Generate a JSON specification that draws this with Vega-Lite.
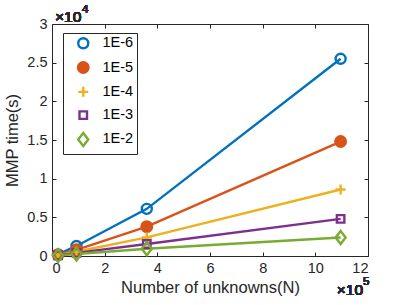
{
  "$schema": "https://vega.github.io/schema/vega-lite/v6.json",
  "autosize": "none",
  "padding": {"left": 52, "top": 24, "right": 39, "bottom": 49},
  "width": 316,
  "height": 232,
  "background": "white",
  "config": {
    "view": {"stroke": "#262626", "strokeWidth": 1},
    "font": "Liberation Sans",
    "axis": {"grid": false, "domain": false, "tickSize": -4, "tickColor": "#262626", "labelColor": "#262626", "labelFontSize": 14.5, "titleFontSize": 16.5, "titleFontWeight": "normal", "titleColor": "#262626", "labelFont": "Liberation Sans", "titleFont": "Liberation Sans"}
  },
  "data": {"values": [
    {"tol": "1E-6", "N": 0.23, "t": 0.02},
    {"tol": "1E-6", "N": 0.93, "t": 0.13},
    {"tol": "1E-6", "N": 3.6, "t": 0.61},
    {"tol": "1E-6", "N": 10.96, "t": 2.55},
    {"tol": "1E-5", "N": 0.23, "t": 0.015},
    {"tol": "1E-5", "N": 0.93, "t": 0.08},
    {"tol": "1E-5", "N": 3.6, "t": 0.38},
    {"tol": "1E-5", "N": 10.96, "t": 1.48},
    {"tol": "1E-4", "N": 0.23, "t": 0.01},
    {"tol": "1E-4", "N": 0.93, "t": 0.055},
    {"tol": "1E-4", "N": 3.6, "t": 0.24},
    {"tol": "1E-4", "N": 10.96, "t": 0.86},
    {"tol": "1E-3", "N": 0.23, "t": 0.008},
    {"tol": "1E-3", "N": 0.93, "t": 0.04},
    {"tol": "1E-3", "N": 3.6, "t": 0.155},
    {"tol": "1E-3", "N": 10.96, "t": 0.48},
    {"tol": "1E-2", "N": 0.23, "t": 0.005},
    {"tol": "1E-2", "N": 0.93, "t": 0.025},
    {"tol": "1E-2", "N": 3.6, "t": 0.094},
    {"tol": "1E-2", "N": 10.96, "t": 0.24}
  ]},
  "resolve": {"axis": {"x": "independent", "y": "independent"}},
  "layer": [
    {
      "mark": {"type": "line", "strokeWidth": 2.4},
      "encoding": {
        "x": {"field": "N", "type": "quantitative", "scale": {"domain": [0, 12], "nice": false}, "axis": {"orient": "bottom", "values": [0, 2, 4, 6, 8, 10, 12], "format": "~g", "title": "Number of unknowns(N)", "labelPadding": 9, "titlePadding": 5}},
        "y": {"field": "t", "type": "quantitative", "scale": {"domain": [0, 3], "nice": false}, "axis": {"orient": "left", "values": [0, 0.5, 1, 1.5, 2, 2.5, 3], "format": "~g", "title": "MMP time(s)", "labelPadding": 9, "titlePadding": 6}},
        "stroke": {"field": "tol", "type": "nominal", "scale": {"domain": ["1E-6", "1E-5", "1E-4", "1E-3", "1E-2"], "range": ["#0072BD", "#D95319", "#EDB120", "#7E2F8E", "#77AC30"]},
          "legend": {"title": null, "orient": "none", "legendX": 11, "legendY": 9, "labelFontSize": 14.5, "labelColor": "#000000", "strokeColor": "#262626", "fillColor": "white", "padding": 3, "symbolStrokeWidth": 2.4, "symbolSize": 100, "symbolOffset": 10, "rowPadding": 3.3, "labelOffset": 12,
            "encode": {"symbols": {"enter": {
              "shape": {"signal": "datum.value === '1E-6' ? 'M-2.9,0H2.9M-1,0A1,1 0 1,1 1,0A1,1 0 1,1 -1,0Z' : datum.value === '1E-5' ? 'M-2.9,0H2.9M-1.05,0A1.05,1.05 0 1,1 1.05,0A1.05,1.05 0 1,1 -1.05,0Z' : datum.value === '1E-4' ? 'M-2.9,0H2.9M0,-1V1' : datum.value === '1E-3' ? 'M-2.9,0H2.9M-0.75,-0.75H0.75V0.75H-0.75Z' : 'M-2.9,0H2.9M0,-1.3L1,0L0,1.3L-1,0Z'"}
            }, "update": {
              "shape": {"signal": "datum.value === '1E-6' ? 'M-2.9,0H2.9M-1,0A1,1 0 1,1 1,0A1,1 0 1,1 -1,0Z' : datum.value === '1E-5' ? 'M-2.9,0H2.9M-1.05,0A1.05,1.05 0 1,1 1.05,0A1.05,1.05 0 1,1 -1.05,0Z' : datum.value === '1E-4' ? 'M-2.9,0H2.9M0,-1V1' : datum.value === '1E-3' ? 'M-2.9,0H2.9M-0.75,-0.75H0.75V0.75H-0.75Z' : 'M-2.9,0H2.9M0,-1.3L1,0L0,1.3L-1,0Z'"}
            }}}}},
        "detail": {"field": "tol"}
      }
    },
    {
      "mark": {"type": "point", "strokeWidth": 2.4, "size": 100, "opacity": 1},
      "encoding": {
        "x": {"field": "N", "type": "quantitative", "axis": {"orient": "top", "values": [0, 2, 4, 6, 8, 10, 12], "labels": false, "title": null}},
        "y": {"field": "t", "type": "quantitative", "axis": {"orient": "right", "values": [0, 0.5, 1, 1.5, 2, 2.5, 3], "labels": false, "title": null}},
        "stroke": {"field": "tol", "type": "nominal"},
        "fill": {"field": "tol", "type": "nominal", "scale": {"domain": ["1E-6", "1E-5", "1E-4", "1E-3", "1E-2"], "range": ["transparent", "#D95319", "transparent", "transparent", "transparent"]}},
        "shape": {"field": "tol", "type": "nominal", "scale": {"domain": ["1E-6", "1E-5", "1E-4", "1E-3", "1E-2"], "range": ["M-1,0A1,1 0 1,1 1,0A1,1 0 1,1 -1,0Z", "M-1.05,0A1.05,1.05 0 1,1 1.05,0A1.05,1.05 0 1,1 -1.05,0Z", "M-1,0H1M0,-1V1", "M-0.75,-0.75H0.75V0.75H-0.75Z", "M0,-1.3L1,0L0,1.3L-1,0Z"]}}
      }
    },
    {
      "mark": {"type": "text", "align": "left", "baseline": "middle", "dy": -7, "dx": 3, "fontSize": 15.5, "color": "#262626"},
      "encoding": {"x": {"datum": 0, "type": "quantitative", "axis": null}, "y": {"datum": 3, "type": "quantitative", "axis": null}, "text": {"value": "×10"}}
    },
    {
      "mark": {"type": "text", "align": "left", "baseline": "middle", "dy": -14, "dx": 30, "fontSize": 11.5, "color": "#262626"},
      "encoding": {"x": {"datum": 0, "type": "quantitative", "axis": null}, "y": {"datum": 3, "type": "quantitative", "axis": null}, "text": {"value": "4"}}
    },
    {
      "mark": {"type": "text", "align": "right", "baseline": "middle", "dy": 34, "dx": -5, "fontSize": 15.5, "color": "#262626"},
      "encoding": {"x": {"datum": 12, "type": "quantitative", "axis": null}, "y": {"datum": 0, "type": "quantitative", "axis": null}, "text": {"value": "×10"}}
    },
    {
      "mark": {"type": "text", "align": "left", "baseline": "middle", "dy": 26, "dx": -5, "fontSize": 11.5, "color": "#262626"},
      "encoding": {"x": {"datum": 12, "type": "quantitative", "axis": null}, "y": {"datum": 0, "type": "quantitative", "axis": null}, "text": {"value": "5"}}
    }
  ]
}
